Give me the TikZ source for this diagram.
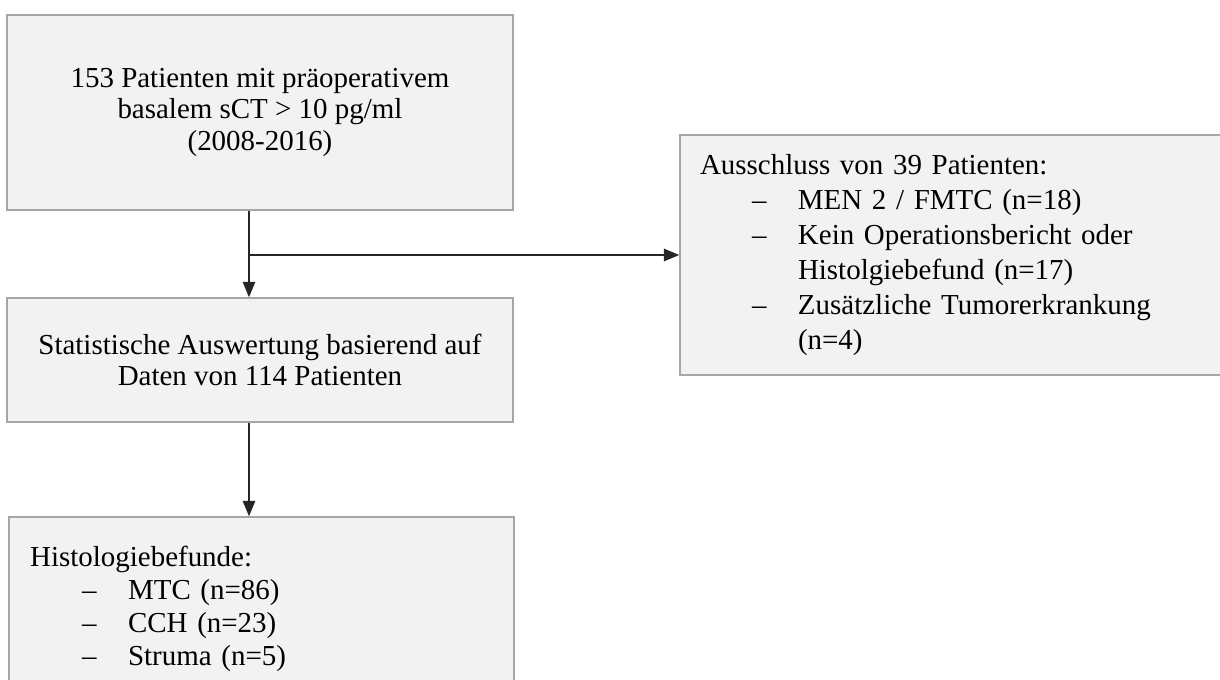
\documentclass[tikz,border=0pt]{standalone}
\usepackage{fontspec}
\setmainfont{Liberation Serif}
\usepackage{xcolor}
\usepackage{tikz}
\usetikzlibrary{arrows.meta}
\usetikzlibrary{calc,positioning}

\definecolor{boxfill}{HTML}{F2F2F2}
\definecolor{boxline}{HTML}{A6A6A6}

\newcommand{\listdash}[1]{\hspace*{1.3cm}\makebox[1.15cm][l]{--}#1}
\newcommand{\listcont}[1]{\hspace*{2.45cm}#1}

\tikzset{
    flowbox/.style={draw=boxline, fill=boxfill, line width=1.1pt, inner sep=0pt,
        font=\fontsize{20.6}{22.6}\selectfont},
    flowarrow/.style={-{Triangle[length=11pt,width=9pt]}, line width=0.8pt, draw=black!85}
}

\begin{document}
\begin{tikzpicture}

    \useasboundingbox (0,0) rectangle (30.5,17);

    % Boxes
    \node[flowbox, minimum width=12.65cm, minimum height=4.875cm, align=center] (patients) at (6.5,14.19)
        {153 Patienten mit präoperativem\\ basalem sCT > 10 pg/ml\\ (2008-2016)};

    \node[flowbox, minimum width=12.65cm, minimum height=3.1cm, align=center] (stats) at (6.5,8.0)
        {Statistische Auswertung basierend auf\\ Daten von 114 Patienten};

    \node[flowbox, minimum width=13.75cm, minimum height=6cm, inner xsep=0.5cm,
          text width=12.75cm, align=left, font=\fontsize{20.6}{24.8}\selectfont] (excl) at (23.875,10.625)
        {Ausschluss von 39 Patienten:\\
         \listdash{MEN 2 / FMTC (n=18)}\\
         \listdash{Kein Operationsbericht oder}\\
         \listcont{Histolgiebefund (n=17)}\\
         \listdash{Zusätzliche Tumorerkrankung}\\
         \listcont{(n=4)}};

    \node[flowbox, minimum width=12.625cm, minimum height=4.6cm, inner xsep=0.525cm,
          text width=11.575cm, align=left, font=\fontsize{20.6}{23.4}\selectfont] (histo) at (6.54,1.775)
        {Histologiebefunde:\\
         \listdash{MTC (n=86)}\\
         \listdash{CCH (n=23)}\\
         \listdash{Struma (n=5)}};

    % Connectors
    \coordinate (split) at (6.225,10.625);
    \draw[line width=0.8pt, draw=black!85] (patients.south -| split) -- (split);
    \draw[flowarrow] (split) -- (stats.north -| split);
    \draw[flowarrow] (split) -- (excl.west);
    \draw[flowarrow] (stats.south -| split) -- (histo.north -| split);

\end{tikzpicture}
\end{document}
